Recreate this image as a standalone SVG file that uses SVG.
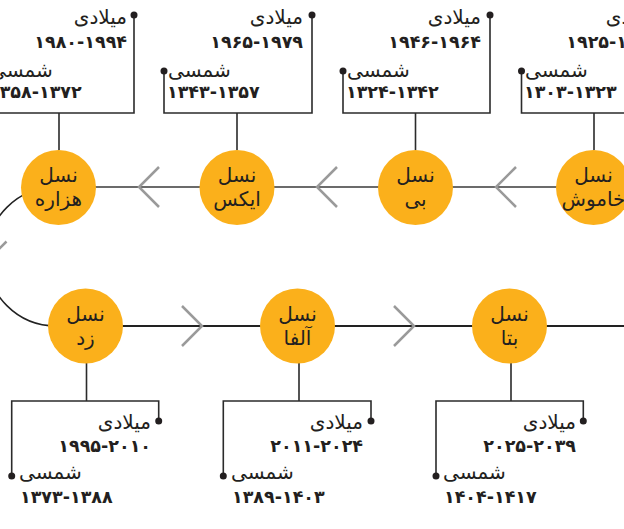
<svg xmlns="http://www.w3.org/2000/svg" width="624" height="529" viewBox="0 0 624 529">
<style>
.bg{fill:#ffffff}
.node circle.c{fill:#FBB01B}
.nt{font-family:"DejaVu Sans",sans-serif;font-size:20px;fill:#231F20;text-anchor:middle}
.lb{font-family:"DejaVu Sans",sans-serif;font-size:20px;fill:#231F20}
.num{font-family:"DejaVu Sans",sans-serif;font-size:17.5px;font-weight:bold;fill:#231F20}
.e{text-anchor:end}
.s{text-anchor:start}
.br{fill:none;stroke:#2b2b2b;stroke-width:1.6}
.node circle.dot{fill:#231F20}
.lineTop{stroke:#6b6b6b;stroke-width:2;fill:none}
.lineBot{stroke:#222;stroke-width:1.8;fill:none}
.arc{stroke:#222;stroke-width:1.5;fill:none}
.chev{stroke:#9a9a9a;stroke-width:2.5;fill:none}
</style>
<rect class="bg" x="0" y="0" width="624" height="529"/>
<g id="connectors">
<path class="arc" d="M56,187 A69.5,69.5 0 0 0 56,326"/>
<path class="chev" d="M6.5,241.5 L-13.5,261.5 L-33.5,241.5"/>
<line class="lineTop" x1="59" y1="187" x2="624" y2="187"/>
<line class="lineBot" x1="86" y1="326" x2="624" y2="326"/>
<path class="chev" d="M159,167 L139,187 L159,207"/>
<path class="chev" d="M337,167 L317,187 L337,207"/>
<path class="chev" d="M516,167 L496,187 L516,207"/>
<path class="chev" d="M182,306 L202,326 L182,346"/>
<path class="chev" d="M394,306 L414,326 L394,346"/>
</g>
<g id="node-hezare" class="node">
<path class="br" d="M59,150 V113 M-14,71 V113 H134 V15"/>
<circle cx="134" cy="15" r="3.5" class="dot"/>
<circle class="c" cx="58.5" cy="187.5" r="37.5"/>
<text class="nt" x="58.5" y="182">نسل</text>
<text class="nt" x="58.5" y="206">هزاره</text>
<text class="lb e" x="127" y="24">میلادی</text>
<text class="num e" x="127" y="48">۱۹۸۰-۱۹۹۴</text>
<text class="lb s" x="-10" y="77">شمسی</text>
<text class="num s" x="-11" y="98">۱۳۵۸-۱۳۷۲</text>
</g>
<g id="node-x" class="node">
<path class="br" d="M237,150 V113 M164,71 V113 H312 V15"/>
<circle cx="312" cy="15" r="3.5" class="dot"/>
<circle cx="164" cy="71" r="3.5" class="dot"/>
<circle class="c" cx="237" cy="187.5" r="37.5"/>
<text class="nt" x="237" y="182">نسل</text>
<text class="nt" x="237" y="206">ایکس</text>
<text class="lb e" x="303" y="24">میلادی</text>
<text class="num e" x="303" y="48">۱۹۶۵-۱۹۷۹</text>
<text class="lb s" x="168" y="77">شمسی</text>
<text class="num s" x="167" y="98">۱۳۴۳-۱۳۵۷</text>
</g>
<g id="node-b" class="node">
<path class="br" d="M415.5,150 V113 M343,71 V113 H490 V15"/>
<circle cx="490" cy="15" r="3.5" class="dot"/>
<circle cx="343" cy="71" r="3.5" class="dot"/>
<circle class="c" cx="415.5" cy="187.5" r="37.5"/>
<text class="nt" x="415.5" y="182">نسل</text>
<text class="nt" x="415.5" y="206">بی</text>
<text class="lb e" x="481" y="24">میلادی</text>
<text class="num e" x="481" y="48">۱۹۴۶-۱۹۶۴</text>
<text class="lb s" x="347" y="77">شمسی</text>
<text class="num s" x="346" y="98">۱۳۲۴-۱۳۴۲</text>
</g>
<g id="node-khamoosh" class="node">
<path class="br" d="M594,150 V113 M521.5,71 V113 H669 V15"/>
<circle cx="521.5" cy="71" r="3.5" class="dot"/>
<circle class="c" cx="593.5" cy="187.5" r="37.5"/>
<text class="nt" x="593.5" y="182">نسل</text>
<text class="nt" x="593.5" y="206">خاموش</text>
<text class="lb e" x="659" y="24">میلادی</text>
<text class="num e" x="659" y="48">۱۹۲۵-۱۹۴۵</text>
<text class="lb s" x="525" y="77">شمسی</text>
<text class="num s" x="524" y="98">۱۳۰۳-۱۳۲۳</text>
</g>
<g id="node-z" class="node">
<path class="br" d="M86.5,363 V401 M11.7,476 V401 H158.7 V421"/>
<circle cx="158.7" cy="421" r="3.5" class="dot"/>
<circle cx="11.7" cy="476" r="3.5" class="dot"/>
<circle class="c" cx="85.5" cy="326" r="37.5"/>
<text class="nt" x="85.5" y="321">نسل</text>
<text class="nt" x="85.5" y="345">زد</text>
<text class="lb e" x="151" y="429">میلادی</text>
<text class="num e" x="151" y="452">۱۹۹۵-۲۰۱۰</text>
<text class="lb s" x="19" y="479">شمسی</text>
<text class="num s" x="20" y="503">۱۳۷۳-۱۳۸۸</text>
</g>
<g id="node-alpha" class="node">
<path class="br" d="M299,363 V401 M223.3,476 V401 H371 V421"/>
<circle cx="371" cy="421" r="3.5" class="dot"/>
<circle cx="223.3" cy="476" r="3.5" class="dot"/>
<circle class="c" cx="297.5" cy="326" r="37.5"/>
<text class="nt" x="297.5" y="321">نسل</text>
<text class="nt" x="297.5" y="345">آلفا</text>
<text class="lb e" x="363" y="429">میلادی</text>
<text class="num e" x="363" y="452">۲۰۱۱-۲۰۲۴</text>
<text class="lb s" x="231" y="479">شمسی</text>
<text class="num s" x="232" y="503">۱۳۸۹-۱۴۰۳</text>
</g>
<g id="node-beta" class="node">
<path class="br" d="M511,363 V401 M436,476 V401 H583.3 V421"/>
<circle cx="583.3" cy="421" r="3.5" class="dot"/>
<circle cx="436" cy="476" r="3.5" class="dot"/>
<circle class="c" cx="509.5" cy="326" r="37.5"/>
<text class="nt" x="509.5" y="321">نسل</text>
<text class="nt" x="509.5" y="345">بتا</text>
<text class="lb e" x="576" y="429">میلادی</text>
<text class="num e" x="576" y="452">۲۰۲۵-۲۰۳۹</text>
<text class="lb s" x="443" y="479">شمسی</text>
<text class="num s" x="444" y="503">۱۴۰۴-۱۴۱۷</text>
</g>
</svg>
